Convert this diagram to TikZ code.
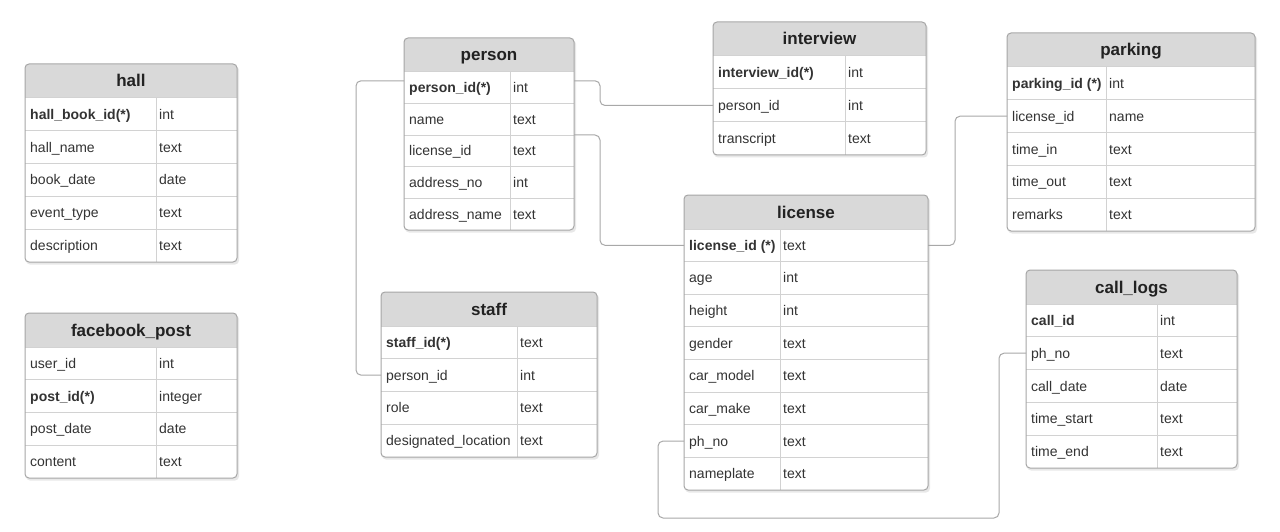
\documentclass[tikz,border=0pt]{standalone}
\usepackage{fontspec}
\setmainfont{Liberation Sans}
\definecolor{hdrc}{HTML}{D9D9D9}
\definecolor{borderc}{HTML}{A6A6A6}
\definecolor{sepc}{HTML}{D2D2D2}
\definecolor{txtc}{HTML}{333333}
\definecolor{titlec}{HTML}{222222}
\definecolor{connc}{HTML}{A8A8A8}
\tikzset{
  cellf/.style={anchor=base west, inner sep=0pt, text=txtc, font=\fontsize{14}{16}\selectfont},
  titlef/.style={anchor=base, inner sep=0pt, text=titlec, font=\fontsize{17}{20}\selectfont\bfseries},
  sepline/.style={draw=sepc, line width=1pt},
  borderline/.style={draw=borderc, line width=1pt},
  shadowc/.style={fill=black!9},
  conn/.style={draw=connc, line width=1pt, rounded corners=5pt},
}
\def\hh{34}
% #1 name, #2 left, #3 top, #4 right, #5 bottom, #6 split, #7 nrows, #8 title, #9 rows
\newcommand\ertable[9]{%
  \pgfmathsetmacro\rh{(#5-#3-\hh)/#7}
  \fill[shadowc, rounded corners=4pt] (#2+1,#3+2) rectangle (#4+2,#5+2.5);
  \fill[white, rounded corners=4pt] (#2,#3) rectangle (#4,#5);
  \begin{scope}
    \clip[rounded corners=4pt] (#2,#3) rectangle (#4,#5);
    \fill[hdrc] (#2,#3) rectangle (#4,#3+\hh);
  \end{scope}
  \node[titlef] (#1) at ({(#2+#4)/2},#3+\hh/2+6) {#8};
  \foreach \fld/\typ [count=\i] in {#9} {
    \pgfmathsetmacro\rt{#3+\hh+(\i-1)*\rh}
    \pgfmathsetmacro\rc{\rt+\rh/2}
    \ifnum\i>1 \draw[sepline] (#2,\rt) -- (#4,\rt); \fi
    \node[cellf] (#1-\i) at (#2+5,\rc+5) {\fld};
    \node[cellf] (#1-\i-t) at (#6+3,\rc+5) {\typ};
    \coordinate (#1-\i-L) at (#2,\rc);
    \coordinate (#1-\i-R) at (#4,\rc);
  }
  \draw[sepline] (#6,#3+\hh) -- (#6,#5);
  \draw[sepline] (#2,#3+\hh) -- (#4,#3+\hh);
  \draw[borderline, rounded corners=4pt] (#2,#3) rectangle (#4,#5);
}
\begin{document}
\begin{tikzpicture}[x=1pt,y=-1pt]
\useasboundingbox (0,0) rectangle (1280,532);
\fill[white] (0,0) rectangle (1280,532);

\ertable{hall}{25}{64}{237}{262}{156}{5}{hall}{%
  {\textbf{hall\_book\_id(*)}}/int,
  {hall\_name}/text,
  {book\_date}/date,
  {event\_type}/text,
  {description}/text}

\ertable{fb}{25}{313}{237}{478}{156}{4}{facebook\_post}{%
  {user\_id}/int,
  {\textbf{post\_id(*)}}/integer,
  {post\_date}/date,
  {content}/text}

\ertable{person}{404}{38}{574}{230}{510}{5}{person}{%
  {\textbf{person\_id(*)}}/int,
  {name}/text,
  {license\_id}/text,
  {address\_no}/int,
  {address\_name}/text}

\ertable{interview}{713}{22}{926}{155}{845}{3}{interview}{%
  {\textbf{interview\_id(*)}}/int,
  {person\_id}/int,
  {transcript}/text}

\ertable{parking}{1007}{33}{1255}{231}{1106}{5}{parking}{%
  {\textbf{parking\_id (*)}}/int,
  {license\_id}/name,
  {time\_in}/text,
  {time\_out}/text,
  {remarks}/text}

\ertable{staff}{381}{292}{597}{457}{517}{4}{staff}{%
  {\textbf{staff\_id(*)}}/text,
  {person\_id}/int,
  {role}/text,
  {designated\_location}/text}

\ertable{license}{684}{195}{928}{490}{780}{8}{license}{%
  {\textbf{license\_id (*)}}/text,
  {age}/int,
  {height}/int,
  {gender}/text,
  {car\_model}/text,
  {car\_make}/text,
  {ph\_no}/text,
  {nameplate}/text}

\ertable{calllogs}{1026}{270}{1237}{468}{1157}{5}{call\_logs}{%
  {\textbf{call\_id}}/int,
  {ph\_no}/text,
  {call\_date}/date,
  {time\_start}/text,
  {time\_end}/text}

% connectors
\draw[conn] ([yshift=7pt]person-1-R) -- ++(26,0) |- (interview-2-L);
\draw[conn] ([yshift=7pt]person-1-L) -- ++(-48,0) |- (staff-2-L);
\draw[conn] ([yshift=16pt]person-3-R) -- ++(26,0) |- (license-1-L);
\draw[conn] (license-1-R) -- ++(27,0) |- (parking-2-L);
\coordinate (cbend) at (999,518);
\draw[conn] (license-7-L) -- ++(-26,0) |- (cbend) |- (calllogs-2-L);
\end{tikzpicture}
\end{document}
